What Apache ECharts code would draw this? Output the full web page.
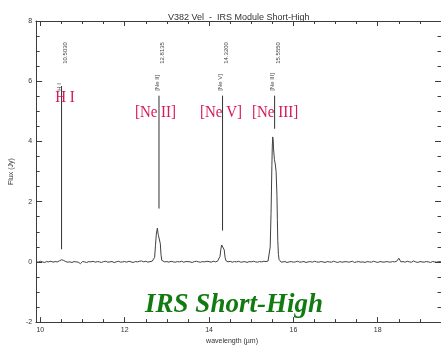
<!DOCTYPE html>
<html>
<head>
<meta charset="utf-8">
<script src="https://cdn.jsdelivr.net/npm/echarts@6/dist/echarts.min.js"></script>
<style>
  html, body { margin: 0; padding: 0; background: #fff; }
  #chart { width: 441px; height: 350px; }
</style>
</head>
<body>
<div id="chart"></div>
<script>
// spectrum: wavelength (µm) / flux (Jy)
const wavelength = [
  9.90, 9.95, 10.00, 10.05, 10.10, 10.15, 10.20, 10.25, 10.30, 10.35,
  10.40, 10.45, 10.50, 10.55, 10.60, 10.65, 10.70, 10.75, 10.80, 10.85,
  10.90, 10.95, 11.00, 11.05, 11.10, 11.15, 11.20, 11.25, 11.30, 11.35,
  11.40, 11.45, 11.50, 11.55, 11.60, 11.65, 11.70, 11.75, 11.80, 11.85,
  11.90, 11.95, 12.00, 12.05, 12.10, 12.15, 12.20, 12.25, 12.30, 12.35,
  12.40, 12.45, 12.50, 12.55, 12.60, 12.65,
  12.69, 12.71, 12.73, 12.75, 12.765, 12.775, 12.79, 12.80, 12.815, 12.83, 12.845, 12.86, 12.88, 12.90,
  12.95, 13.00, 13.05, 13.10, 13.15, 13.20, 13.25, 13.30, 13.35, 13.40, 13.45,
  13.50, 13.55, 13.60, 13.65, 13.70, 13.75, 13.80, 13.85, 13.90, 13.95,
  14.00, 14.05, 14.10, 14.15, 14.20,
  14.24, 14.26, 14.28, 14.30, 14.32, 14.34, 14.36, 14.38, 14.40, 14.43,
  14.45, 14.50, 14.55, 14.60, 14.65, 14.70, 14.75, 14.80, 14.85, 14.90, 14.95,
  15.00, 15.05, 15.10, 15.15, 15.20, 15.25, 15.30, 15.35, 15.40,
  15.43, 15.45, 15.47, 15.49, 15.50, 15.51, 15.52, 15.53, 15.55, 15.57, 15.59,
  15.61, 15.62, 15.63, 15.645, 15.66, 15.68, 15.71,
  15.75, 15.80, 15.85, 15.90, 15.95, 16.00, 16.05, 16.10, 16.15, 16.20,
  16.25, 16.30, 16.35, 16.40, 16.45, 16.50, 16.55, 16.60, 16.65, 16.70,
  16.75, 16.80, 16.85, 16.90, 16.95, 17.00, 17.05, 17.10, 17.15, 17.20,
  17.25, 17.30, 17.35, 17.40, 17.45, 17.50, 17.55, 17.60, 17.65, 17.70,
  17.75, 17.80, 17.85, 17.90, 17.95, 18.00, 18.05, 18.10, 18.15, 18.20,
  18.25, 18.30, 18.35, 18.40, 18.45, 18.50, 18.55,
  18.60, 18.65, 18.70, 18.75, 18.80, 18.85, 18.90, 18.95, 19.00, 19.05,
  19.10, 19.15, 19.20, 19.25, 19.30, 19.35, 19.40, 19.45, 19.50
];
const flux = [
  0.01, -0.01, 0.02, 0.00, -0.02, 0.01, 0.00, 0.02, -0.01, 0.01,
  0.00, 0.03, 0.07, 0.05, 0.01, -0.01, 0.00, -0.02, 0.01, 0.00,
  -0.01, -0.06, 0.01, 0.00, -0.02, 0.01, 0.00, 0.02, -0.01, 0.01,
  0.00, -0.02, 0.01, 0.02, -0.01, 0.00, 0.01, -0.02, 0.00, 0.02,
  -0.01, 0.00, 0.01, -0.01, 0.02, 0.00, -0.02, 0.01, 0.00, 0.02,
  0.03, 0.00, 0.02, -0.01, 0.01, 0.02,
  0.04, 0.15, 0.55, 0.92, 1.05, 1.12, 0.95, 0.88, 0.93, 0.92, 0.60, 0.25, 0.05, 0.01,
  0.00, 0.01, -0.01, 0.02, 0.00, -0.01, 0.01, 0.00, 0.02, -0.01, 0.01,
  0.01, 0.00, -0.02, 0.01, 0.02, 0.00, -0.01, 0.01, 0.00, 0.02,
  0.01, -0.01, 0.02, 0.00, 0.02,
  0.05, 0.18, 0.42, 0.56, 0.58, 0.54, 0.40, 0.15, 0.04, 0.01,
  0.00, 0.02, -0.01, 0.01, 0.00, 0.02, -0.01, 0.00, 0.01, -0.02, 0.01,
  0.00, 0.02, 0.00, -0.01, 0.01, 0.00, 0.02, 0.01, 0.03,
  0.08, 0.50, 1.60, 3.20, 3.85, 4.15, 4.05, 3.75, 3.40, 3.25, 3.00,
  2.20, 1.40, 0.70, 0.25, 0.08, 0.02, -0.01,
  -0.01, 0.01, -0.02, 0.00, 0.01, -0.01, 0.00, 0.02, -0.01, 0.00,
  0.01, -0.02, 0.00, 0.01, -0.01, 0.02, 0.00, -0.01, 0.01, 0.00,
  -0.02, 0.01, 0.00, -0.01, 0.02, 0.00, -0.02, 0.01, -0.01, 0.00,
  0.01, -0.01, 0.00, 0.02, -0.02, 0.00, 0.01, -0.01, 0.00, -0.02,
  0.01, 0.00, -0.01, 0.02, 0.00, -0.02, 0.01, 0.00, -0.01, 0.01,
  0.00, -0.01, 0.01, 0.00, 0.02, 0.12, 0.00,
  0.01, -0.01, 0.02, 0.00, -0.01, 0.03, 0.00, -0.02, 0.01, 0.00,
  -0.01, 0.01, 0.00, -0.02, 0.01, 0.00, -0.01, 0.01, 0.00
];

// identified emission lines
const lineIons = ['H I', '[Ne II]', '[Ne V]', '[Ne III]'];
const lineRest = [10.5030, 12.8135, 14.3200, 15.5550];
const lineRestText = ['10.5030', '12.8135', '14.3200', '15.5550'];
const lineTop = [5.84, 5.52, 5.52, 5.52];
const lineBottom = [0.42, 1.77, 1.04, 4.42];

// axis ticks
const xMajorTicks = [10, 12, 14, 16, 18];
const xMinorTicks = [10.5, 11, 11.5, 12.5, 13, 13.5, 14.5, 15, 15.5, 16.5, 17, 17.5, 18.5, 19];

const axisColor = '#3c3c3c';
const sans = 'Liberation Sans';

// red tag placement: [px shift from the line, flux height]
const tagPlace = [[3.5, 5.47], [-3.5, 4.95], [-1.5, 4.95], [0.5, 4.95]];

function xAxisDef(pos, ticks, len, withLabels) {
  return {
    type: 'value', position: pos, min: 9.9, max: 19.5,
    axisLine: { show: true, onZero: false, lineStyle: { color: axisColor, width: 1 } },
    axisTick: { show: true, inside: true, length: len, customValues: ticks,
      lineStyle: { color: axisColor, width: 1 } },
    axisLabel: withLabels
      ? { show: true, customValues: ticks, margin: 4, color: '#333', fontSize: 7, fontFamily: sans }
      : { show: false },
    splitLine: { show: false }
  };
}

function yAxisDef(pos, withLabels) {
  return {
    type: 'value', position: pos, min: -2, max: 8, interval: 2,
    axisLine: { show: true, onZero: false, lineStyle: { color: axisColor, width: 1 } },
    axisTick: { show: true, inside: true, length: 6, lineStyle: { color: axisColor } },
    minorTick: { show: true, splitNumber: 4, length: 3.5, lineStyle: { color: axisColor } },
    axisLabel: withLabels
      ? { show: true, margin: 4, color: '#333', fontSize: 7, fontFamily: sans }
      : { show: false },
    splitLine: { show: false }
  };
}

const xAxes = [
  xAxisDef('bottom', xMajorTicks, 5, true),
  xAxisDef('bottom', xMinorTicks, 3, false),
  xAxisDef('top', xMajorTicks, 5, false),
  xAxisDef('top', xMinorTicks, 3, false)
];
Object.assign(xAxes[0], {
  name: 'wavelength (µm)', nameLocation: 'middle', nameGap: 11,
  nameTextStyle: { color: '#333', fontSize: 7, fontFamily: sans, padding: [0, 13, 0, 0] }
});
const yAxes = [yAxisDef('left', true), yAxisDef('right', false)];
Object.assign(yAxes[0], {
  name: 'Flux (Jy)', nameLocation: 'middle', nameGap: 18, nameRotate: 90,
  nameTextStyle: { color: '#333', fontSize: 7, fontFamily: sans }
});

const chart = echarts.init(document.getElementById('chart'));
chart.setOption({
  animation: false,
  backgroundColor: '#fff',
  title: {
    text: 'V382 Vel  -  IRS Module Short-High',
    left: 163, top: 8,
    textStyle: { color: '#333', fontSize: 9, fontWeight: 'normal', fontFamily: sans }
  },
  grid: { left: 34, right: 0, top: 21, bottom: 19, containLabel: false },
  xAxis: xAxes,
  yAxis: yAxes,
  graphic: [{
    type: 'text', x: 234, y: 305,
    style: {
      text: 'IRS Short-High', fill: '#117a11', align: 'center', verticalAlign: 'middle',
      font: 'italic bold 27px "Liberation Serif"'
    }
  }],
  series: [
    {
      type: 'line',
      data: wavelength.map((w, i) => [w, flux[i]]),
      showSymbol: false,
      silent: true,
      lineStyle: { color: '#404040', width: 1 }
    },
    {
      type: 'custom',
      silent: true,
      data: lineRest.map((w, i) => [w, lineBottom[i], lineTop[i], i]),
      renderItem: function (params, api) {
        const i = api.value(3);
        const w = api.value(0);
        const top = api.coord([w, api.value(2)]);
        const bot = api.coord([w, api.value(1)]);
        const ionAt = api.coord([w, 5.68]);
        const restAt = api.coord([w, 6.58]);
        const tagAt = api.coord([w, tagPlace[i][1]]);
        return {
          type: 'group',
          children: [
            { type: 'line', shape: { x1: top[0], y1: top[1], x2: bot[0], y2: bot[1] },
              style: { stroke: '#333', lineWidth: 1 } },
            { type: 'text', x: top[0] - 2, y: ionAt[1], rotation: Math.PI / 2,
              style: { text: lineIons[i], fill: '#444', fontSize: 6, fontFamily: sans,
                align: 'left', verticalAlign: 'middle' } },
            { type: 'text', x: top[0] + 3.5, y: restAt[1], rotation: Math.PI / 2,
              style: { text: lineRestText[i], fill: '#444', fontSize: 6, fontFamily: sans,
                align: 'left', verticalAlign: 'middle' } },
            { type: 'text', x: top[0] + tagPlace[i][0], y: tagAt[1], scaleY: 1.12,
              style: { text: lineIons[i], fill: '#d6185e', align: 'center', verticalAlign: 'middle',
                font: '15px "Liberation Serif"' } }
          ]
        };
      }
    }
  ]
});
</script>
</body>
</html>
